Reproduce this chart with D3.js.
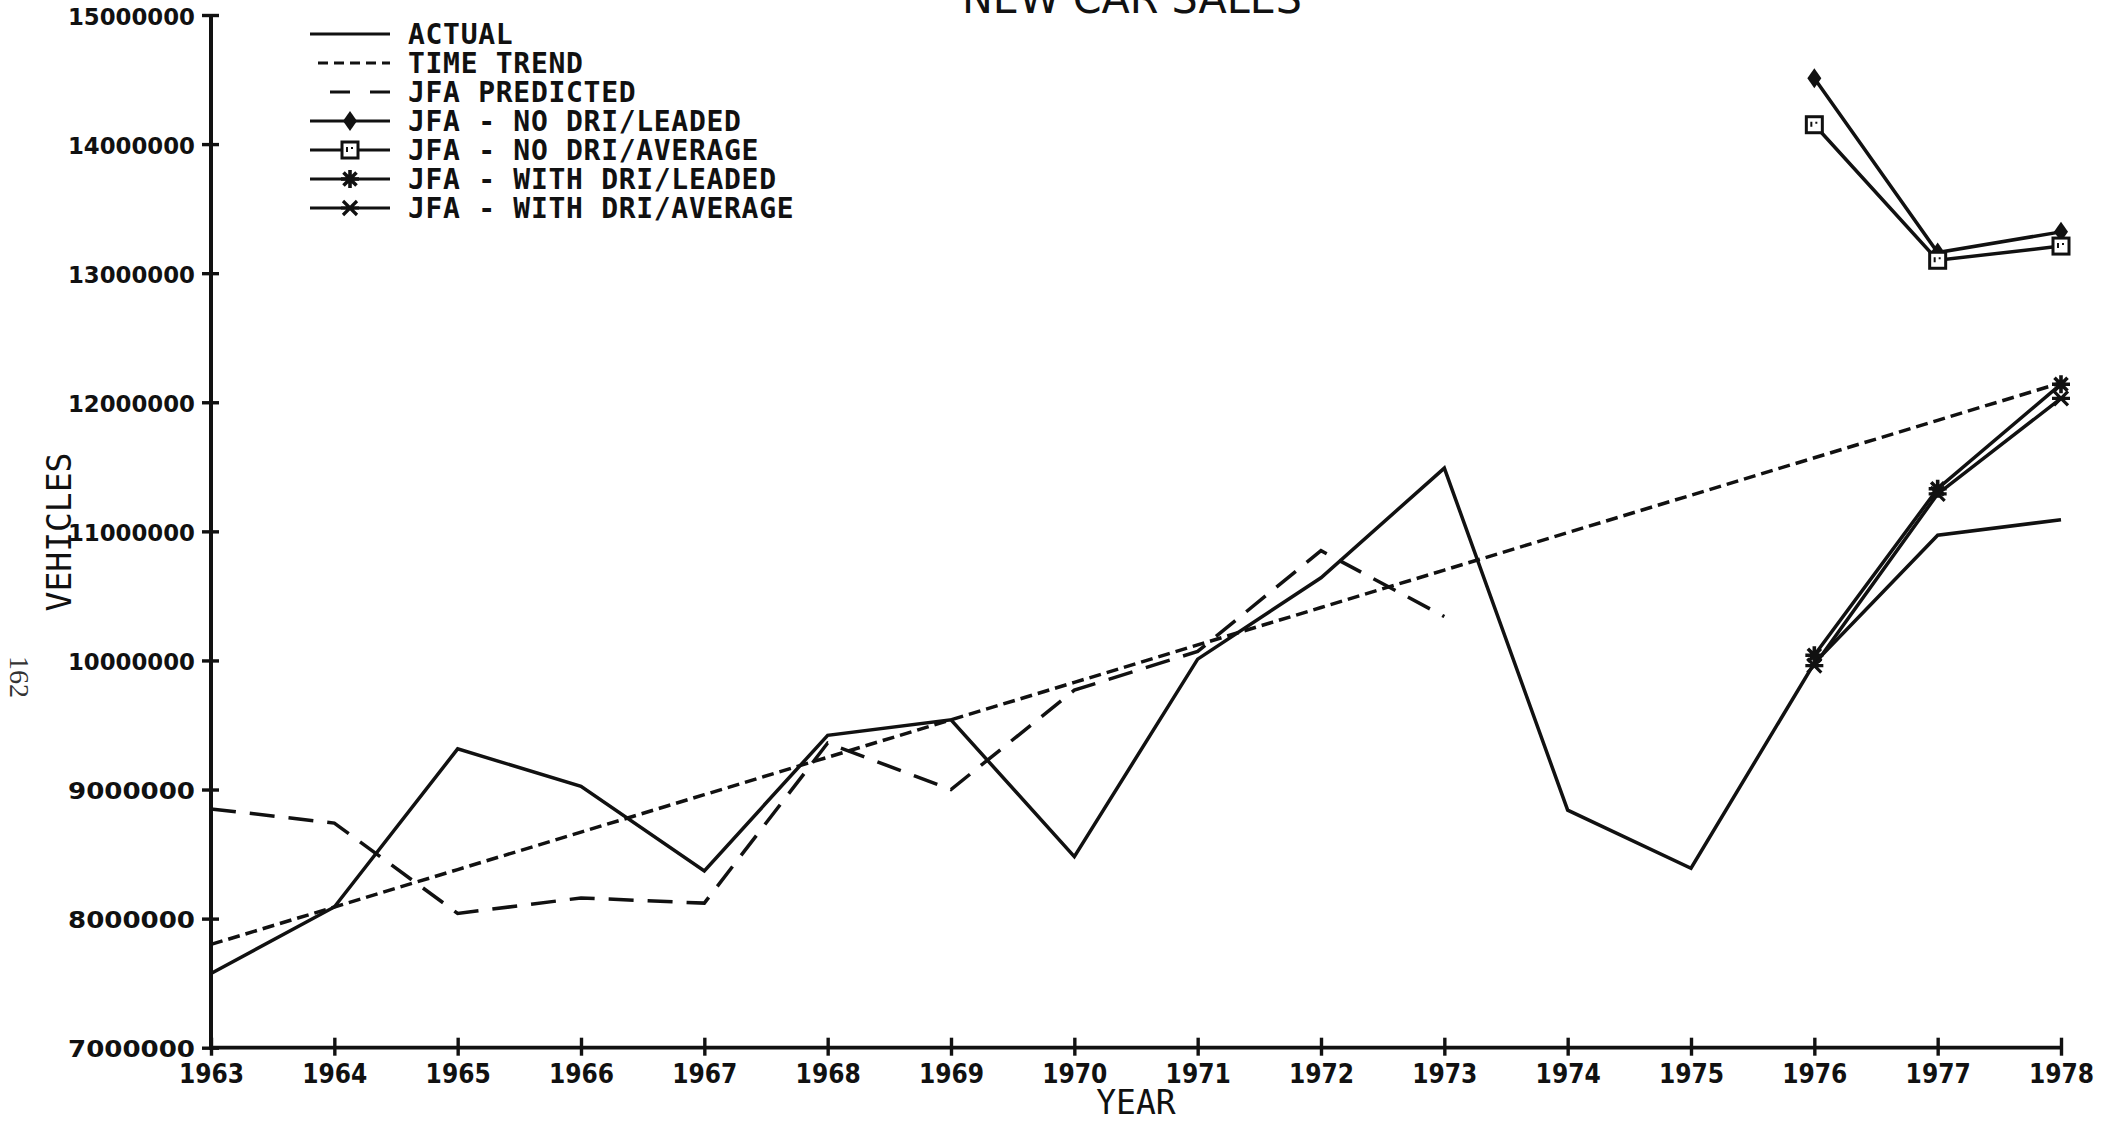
<!DOCTYPE html>
<html><head><meta charset="utf-8">
<script src="https://cdn.jsdelivr.net/npm/d3@7"></script>
<style>body{margin:0;background:#fff}svg{display:block}</style>
</head><body>
<svg id="c" width="2114" height="1122"></svg>
<script>
// ---- data ----
const years = [1963,1964,1965,1966,1967,1968,1969,1970,1971,1972,1973,1974,1975,1976,1977,1978];
const actual = [7575000,8090000,9315000,9025000,8370000,9420000,9540000,8480000,10010000,10640000,11490000,8840000,8390000,9980000,10970000,11090000];
const timeTrend = [7800000,8090000,8380000,8670000,8960000,9250000,9540000,9830000,10120000,10410000,10700000,10990000,11280000,11570000,11860000,12150000];
const predYears = [1963,1964,1965,1966,1967,1968,1969,1970,1971,1972,1973];
const jfaPredicted = [8850000,8740000,8040000,8160000,8120000,9360000,9000000,9770000,10070000,10850000,10340000];
const fcYears = [1976,1977,1978];
const noDriLeaded = [14510000,13160000,13320000];
const noDriAverage = [14150000,13100000,13210000];
const withDriLeaded = [10040000,11330000,12140000];
const withDriAverage = [9960000,11290000,12030000];
const yTicks = [7000000,8000000,9000000,10000000,11000000,12000000,13000000,14000000,15000000];
const xTicks = years;
const legendLabels = ["ACTUAL","TIME TREND","JFA PREDICTED","JFA - NO DRI/LEADED","JFA - NO DRI/AVERAGE","JFA - WITH DRI/LEADED","JFA - WITH DRI/AVERAGE"];
const titleText = "NEW CAR SALES";

// ---- layout ----
const svg = d3.select("#c");
const X0 = 211, X1 = 2061, Y0 = 1047.7, Y1 = 15;
const x = d3.scaleLinear().domain([1963,1978]).range([X0,X1]);
const y = d3.scaleLinear().domain([7000000,15000000]).range([Y0,Y1]);
const ink = "#111";
const LW = 3.5;

// axes
const gy = svg.append("g").attr("transform",`translate(${X0},0)`)
  .call(d3.axisLeft(y).tickValues(yTicks).tickFormat(d3.format("d")).tickSize(9).tickPadding(8));
gy.select(".domain").remove();
gy.selectAll(".tick line").attr("x1",-9).attr("x2",8).attr("stroke",ink).attr("stroke-width",3.4);
gy.selectAll(".tick text").attr("x",-16).attr("dy","0.4em").attr("fill",ink)
  .style("font-family","'DejaVu Sans'").style("font-weight","bold").style("font-size","23px")
  .attr("textLength",127).attr("lengthAdjust","spacingAndGlyphs");
svg.append("line").attr("x1",X0).attr("x2",X0).attr("y1",Y1).attr("y2",Y0+2).attr("stroke",ink).attr("stroke-width",4);

const gx = svg.append("g").attr("transform",`translate(0,${Y0})`)
  .call(d3.axisBottom(x).tickValues(xTicks).tickFormat(d3.format("d")).tickSize(8).tickPadding(8));
gx.select(".domain").remove();
gx.selectAll(".tick line").attr("y1",-10).attr("y2",8).attr("stroke",ink).attr("stroke-width",3.4);
gx.selectAll(".tick text").attr("y",35).attr("dy",0).attr("fill",ink)
  .style("font-family","'DejaVu Sans Condensed'").style("font-weight","bold").style("font-size","26px");
svg.append("line").attr("x1",X0-2).attr("x2",X1).attr("y1",Y0).attr("y2",Y0).attr("stroke",ink).attr("stroke-width",3.8);

// labels
svg.append("text").attr("x",(X0+X1)/2).attr("y",1114).attr("text-anchor","middle")
  .style("font-family","'DejaVu Sans Mono'").style("font-size","33px").attr("fill",ink).text("YEAR");
svg.append("text").attr("transform","translate(71,532) rotate(-90)").attr("text-anchor","middle")
  .style("font-family","'DejaVu Sans Mono'").style("font-size","33px").attr("fill",ink).text("VEHICLES");
svg.append("text").attr("x",(X0+X1)/2 - 4).attr("y",12.5).attr("text-anchor","middle")
  .style("font-family","'DejaVu Sans Condensed'").style("font-size","42px").attr("fill",ink)
  .attr("textLength",340).attr("lengthAdjust","spacingAndGlyphs").text(titleText);
svg.append("text").attr("transform","translate(10,677) rotate(90)").attr("text-anchor","middle")
  .style("font-family","'Liberation Serif'").style("font-size","28px").attr("fill","#333").text("162");

// lines
const line = d3.line().x(d=>x(d[0])).y(d=>y(d[1]));
function series(xs, vs){ return xs.map((t,i)=>[t,vs[i]]); }
function drawLine(data, dash){
  svg.append("path").datum(data).attr("d",line).attr("fill","none").attr("stroke",ink)
    .attr("stroke-width",LW).attr("stroke-linejoin","miter").attr("stroke-dasharray",dash||null);
}
drawLine(series(years,timeTrend),"12,6");
drawLine(series(predYears,jfaPredicted),"25,14");
drawLine(series(years,actual));
drawLine(series(fcYears,noDriLeaded));
drawLine(series(fcYears,noDriAverage));
drawLine(series(fcYears,withDriLeaded));
drawLine(series(fcYears,withDriAverage));

// markers
function marker(g, type, cx, cy){
  if(type==="diamond"){
    g.append("path").attr("d",`M${cx},${cy-10}L${cx+7},${cy}L${cx},${cy+10}L${cx-7},${cy}Z`).attr("fill",ink);
  } else if(type==="square"){
    g.append("rect").attr("x",cx-8).attr("y",cy-8).attr("width",16).attr("height",16)
      .attr("fill","#fff").attr("stroke",ink).attr("stroke-width",3);
    g.append("path").attr("d",`M${cx-3},${cy-3}L${cx-3},${cy+2}M${cx+2},${cy-3}L${cx+2},${cy-1}`).attr("stroke",ink).attr("stroke-width",2);
  } else if(type==="asterisk"){
    const r=9, r2=6.5;
    g.append("path").attr("d",`M${cx-r},${cy}L${cx+r},${cy}M${cx},${cy-r}L${cx},${cy+r}M${cx-r2},${cy-r2}L${cx+r2},${cy+r2}M${cx-r2},${cy+r2}L${cx+r2},${cy-r2}`)
      .attr("stroke",ink).attr("stroke-width",3.6).attr("fill","none");
  } else if(type==="star"){
    const r=9, r2=7;
    g.append("path").attr("d",`M${cx-r},${cy}L${cx+r},${cy}M${cx-r2},${cy-r2}L${cx+r2},${cy+r2}M${cx-r2},${cy+r2}L${cx+r2},${cy-r2}`)
      .attr("stroke",ink).attr("stroke-width",3.2).attr("fill","none");
  }
}
const mg = svg.append("g");
fcYears.forEach((t,i)=>{
  marker(mg,"diamond",x(t),y(noDriLeaded[i]));
  marker(mg,"square",x(t),y(noDriAverage[i]));
  marker(mg,"asterisk",x(t),y(withDriLeaded[i]));
  marker(mg,"star",x(t),y(withDriAverage[i]));
});

// legend
const styles = [
  {dash:null,m:null},{dash:"10,6",m:null,x1:318},{dash:"20,20",m:null,x1:330},
  {dash:null,m:"diamond"},{dash:null,m:"square"},{dash:null,m:"asterisk"},{dash:null,m:"star"}
];
const lg = svg.append("g");
legendLabels.forEach((lab,i)=>{
  const ry = 34 + i*29;
  const st = styles[i];
  lg.append("line").attr("x1",st.x1||310).attr("x2",390).attr("y1",ry).attr("y2",ry)
    .attr("stroke",ink).attr("stroke-width",3.2).attr("stroke-dasharray",st.dash);
  if(st.m) marker(lg,st.m,350,ry);
  lg.append("text").attr("x",408).attr("y",ry+10).attr("fill",ink)
    .style("font-family","'DejaVu Sans Mono'").style("font-weight","bold").style("font-size","28px").style("letter-spacing","0.7px").text(lab);
});
</script>
</body></html>
